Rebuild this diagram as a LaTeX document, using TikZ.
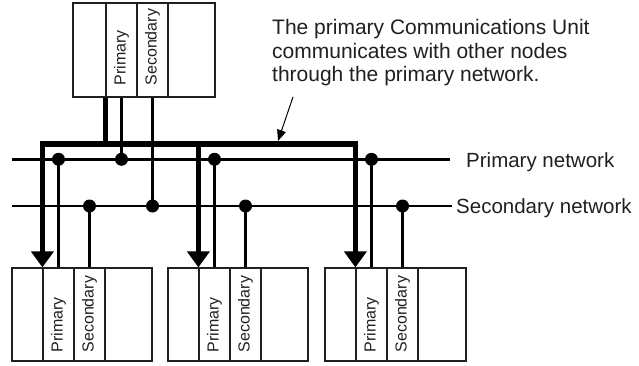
\documentclass[tikz,border=0pt]{standalone}
\usepackage{fontspec}
\setmainfont{Liberation Sans}
\usetikzlibrary{arrows.meta,calc}
\definecolor{ink}{RGB}{35,31,32}
\begin{document}
\begin{tikzpicture}[x=1pt,y=-1pt,
  unitbox/.style={draw=ink,line width=1.2pt,inner sep=0},
  col/.style={draw=ink,line width=1.2pt,inner sep=0,minimum width=31pt},
  vlabel/.style={rotate=90,anchor=west,inner sep=0,text=ink,font=\fontsize{16}{18}\selectfont},
  net/.style={draw=black,line width=2.8pt},
  link/.style={draw=black,line width=2.8pt},
  bus/.style={draw=black,line width=5.5pt,line join=miter},
  dot/.style={circle,fill=black,inner sep=0,minimum size=13pt},
  bigarrow/.tip={Triangle[length=16pt,width=22pt]},
  smallarrow/.tip={Triangle[length=11pt,width=9pt]},
  note/.style={anchor=base west,inner sep=0,text=ink,font=\fontsize{21}{24}\selectfont}]
\useasboundingbox (0,0) rectangle (639,366);

% top unit
\node[unitbox,minimum width=142pt,minimum height=94pt] (top) at (144,50) {};
\node[col,minimum height=94pt] (topP) at (121.5,50) {};
\node[col,minimum height=94pt] (topS) at (152.5,50) {};
\node[vlabel] (topPl) at ($(topP.south)+(0,-12)$) {Primary};
\node[vlabel] (topSl) at ($(topS.south)+(0,-12)$) {Secondary};

% bottom units
\node[unitbox,minimum width=140pt,minimum height=93pt] (u1) at (82,314.5) {};
\node[col,minimum height=93pt] (b1P) at (58.5,314.5) {};
\node[col,minimum height=93pt] (b1S) at (89.5,314.5) {};
\node[vlabel] (b1Pl) at ($(b1P.south)+(0,-9)$) {Primary};
\node[vlabel] (b1Sl) at ($(b1S.south)+(0,-9)$) {Secondary};

\node[unitbox,minimum width=140pt,minimum height=93pt] (u2) at (238,314.5) {};
\node[col,minimum height=93pt] (b2P) at (214.5,314.5) {};
\node[col,minimum height=93pt] (b2S) at (245.5,314.5) {};
\node[vlabel] (b2Pl) at ($(b2P.south)+(0,-9)$) {Primary};
\node[vlabel] (b2Sl) at ($(b2S.south)+(0,-9)$) {Secondary};

\node[unitbox,minimum width=141pt,minimum height=93pt] (u3) at (395.5,314.5) {};
\node[col,minimum height=93pt] (b3P) at (371.5,314.5) {};
\node[col,minimum height=93pt] (b3S) at (402.5,314.5) {};
\node[vlabel] (b3Pl) at ($(b3P.south)+(0,-9)$) {Primary};
\node[vlabel] (b3Sl) at ($(b3S.south)+(0,-9)$) {Secondary};

% networks
\coordinate (pnL) at (12,159.3);
\coordinate (pnR) at (450,159.3);
\coordinate (snL) at (12,206);
\coordinate (snR) at (452,206);
\draw[net] (pnL) -- (pnR);
\draw[net] (snL) -- (snR);
\node[note,font=\fontsize{20.5}{24}\selectfont] (pnlabel) at (466,167.5) {Primary network};
\node[note,font=\fontsize{20.5}{24}\selectfont] (snlabel) at (456,213.5) {Secondary network};

% dots
\node[dot] (dTP) at (topP.south |- pnL) {};
\node[dot] (dTS) at (topS.south |- snL) {};
\node[dot] (d1P) at (b1P.north |- pnL) {};
\node[dot] (d1S) at (b1S.north |- snL) {};
\node[dot] (d2P) at (b2P.north |- pnL) {};
\node[dot] (d2S) at (b2S.north |- snL) {};
\node[dot] (d3P) at (b3P.north |- pnL) {};
\node[dot] (d3S) at (b3S.north |- snL) {};

% links
\draw[link] (topP.south) -- (dTP.center);
\draw[link] (topS.south) -- (dTS.center);
\draw[link] (d1P.center) -- (b1P.north);
\draw[link] (d1S.center) -- (b1S.north);
\draw[link] (d2P.center) -- (b2P.north);
\draw[link] (d2S.center) -- (b2S.north);
\draw[link] (d3P.center) -- (b3P.north);
\draw[link] (d3S.center) -- (b3S.north);

% thick bus
\coordinate (buslevel) at (0,144);
\coordinate (busL) at (b1P.north west |- buslevel);
\coordinate (busR) at (b3P.north west |- buslevel);
\draw[bus,{bigarrow}-{bigarrow}] (b1P.north west) -- (busL) -- (busR) -- (b3P.north west);
\draw[bus,-{bigarrow}] (b2P.north west |- buslevel) -- (b2P.north west);
\draw[bus] (topP.south west) -- (topP.south west |- buslevel);

% annotation
\node[note] (note1) at (272,35) {The primary Communications Unit};
\node[note] (note2) at (272,58.5) {communicates with other nodes};
\node[note] (note3) at (272,82) {through the primary network.};
\coordinate (annS) at (293,97);
\coordinate (annE) at (278,141);
\draw[draw=black,line width=1pt,-{smallarrow}] (annS) -- (annE);
\end{tikzpicture}
\end{document}
